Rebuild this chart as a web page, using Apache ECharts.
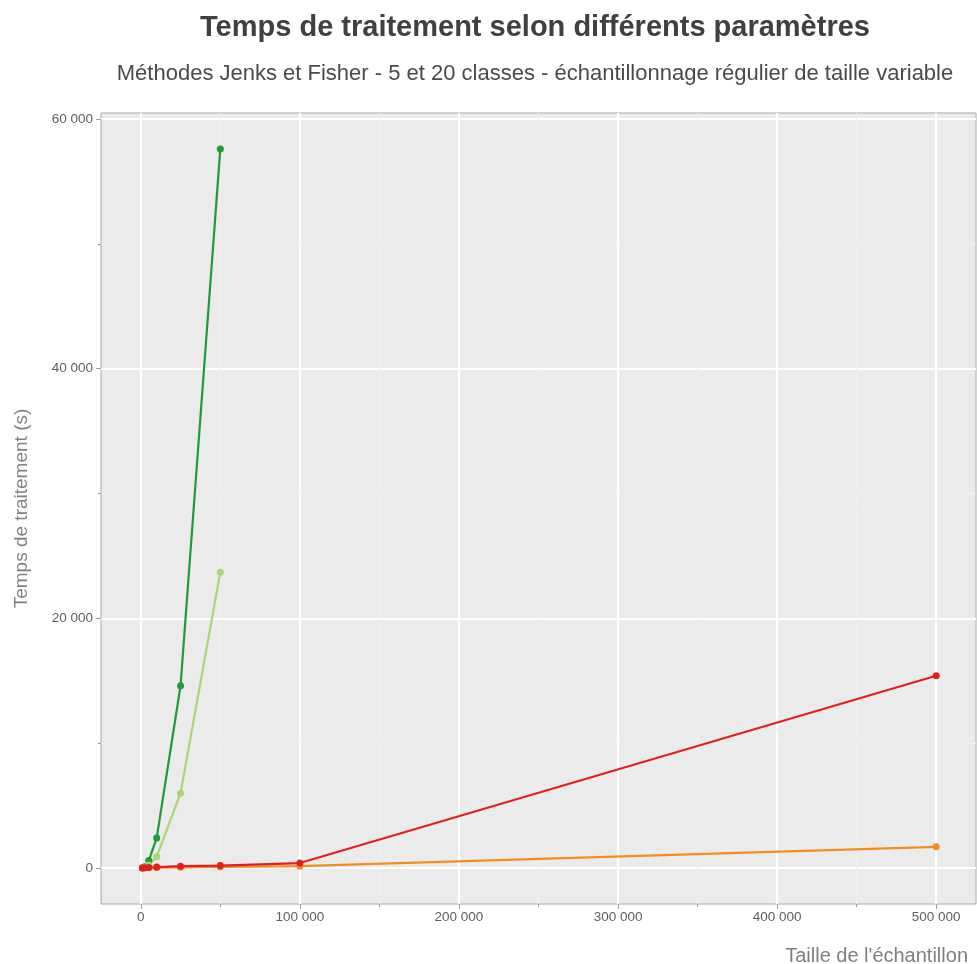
<!DOCTYPE html>
<html>
<head>
<meta charset="utf-8">
<script src="https://cdn.jsdelivr.net/npm/echarts@6/dist/echarts.min.js"></script>
<style>
  html, body { margin: 0; padding: 0; background: #ffffff; }
  #chart { width: 977px; height: 964px; }
</style>
</head>
<body>
<div id="chart"></div>
<script>
// Sample sizes (number of observations) and processing times in seconds
const sizesJenks = [1000, 2500, 5000, 10000, 25000, 50000];
const sizesFisher = [1000, 2500, 5000, 10000, 25000, 50000, 100000, 500000];

const jenks20 = [15, 100, 600, 2400, 14600, 57600];
const jenks5 = [5, 40, 250, 900, 6000, 23700];
const fisher5 = [5, 10, 20, 35, 60, 90, 150, 1700];
const fisher20 = [10, 20, 40, 80, 150, 200, 400, 15400];

// Axis tick positions
const xMajor = [0, 100000, 200000, 300000, 400000, 500000];
const xMinor = [50000, 150000, 250000, 350000, 450000];
const yMajor = [0, 20000, 40000, 60000];
const yMinor = [10000, 30000, 50000];

const pair = (xs, ys) => ys.map((v, i) => [xs[i], v]);
const fmt = v => String(v).replace(/\B(?=(\d{3})+(?!\d))/g, ' ');

const tickGrey = '#9a9a9a';
const labelGrey = '#606060';
const sans = 'Liberation Sans, Arial, sans-serif';

function xAxisDef(major) {
  return {
    type: 'value', gridIndex: 0, position: 'bottom',
    min: -25000, max: 525000,
    axisLine: { show: false, onZero: false },
    axisTick: {
      show: true, length: major ? 5 : 3,
      customValues: major ? xMajor : xMinor,
      lineStyle: { color: tickGrey, width: 1 }
    },
    axisLabel: major ? {
      show: true, customValues: xMajor, formatter: fmt, margin: 6,
      color: labelGrey, fontSize: 13.5, fontFamily: sans
    } : { show: false },
    splitLine: {
      show: true,
      lineStyle: { color: major ? '#ffffff' : '#efefef', width: major ? 2.2 : 1 }
    },
    name: major ? "Taille de l'échantillon" : '',
    nameLocation: 'end', nameGap: -8,
    nameTextStyle: {
      color: '#808080', fontSize: 20, fontFamily: sans,
      align: 'right', verticalAlign: 'top', padding: [42, 0, 0, 0]
    }
  };
}

function yAxisDef(major) {
  return {
    type: 'value', gridIndex: 0, position: 'left',
    min: -2880, max: 60480,
    axisLine: { show: false, onZero: false },
    axisTick: {
      show: true, length: major ? 5 : 3,
      customValues: major ? yMajor : yMinor,
      lineStyle: { color: tickGrey, width: 1 }
    },
    axisLabel: major ? {
      show: true, customValues: yMajor, formatter: fmt, margin: 8,
      color: labelGrey, fontSize: 13.5, fontFamily: sans
    } : { show: false },
    splitLine: {
      show: true,
      lineStyle: { color: major ? '#ffffff' : '#efefef', width: major ? 2.2 : 1 }
    },
    name: major ? 'Temps de traitement (s)' : '',
    nameLocation: 'middle', nameGap: 70, nameRotate: 90,
    nameTextStyle: { color: '#808080', fontSize: 19, fontFamily: sans }
  };
}

function lineSeries(name, data, color) {
  return {
    name: name, type: 'line', xAxisIndex: 0, yAxisIndex: 0,
    data: data, color: color,
    symbol: 'circle', symbolSize: 7, showSymbol: true,
    lineStyle: { color: color, width: 2.2 },
    itemStyle: { color: color },
    emphasis: { disabled: true },
    animation: false
  };
}

const chart = echarts.init(document.getElementById('chart'), null, { renderer: 'canvas' });
chart.setOption({
  backgroundColor: '#ffffff',
  animation: false,
  title: [
    {
      text: 'Temps de traitement selon différents paramètres',
      left: 530, top: 8, textAlign: 'center',
      textStyle: { fontFamily: sans, fontWeight: 'bold', fontSize: 29, color: '#404040' }
    },
    {
      text: 'Méthodes Jenks et Fisher - 5 et 20 classes - échantillonnage régulier de taille variable',
      left: 530, top: 58, textAlign: 'center',
      textStyle: { fontFamily: sans, fontWeight: 'normal', fontSize: 22, color: '#4a4a4a' }
    }
  ],
  grid: {
    left: 101, right: 1, top: 113, bottom: 60,
    outerBoundsMode: 'none',
    show: true, backgroundColor: '#ebebeb', borderColor: '#a8a8a8', borderWidth: 1,
    containLabel: false
  },
  xAxis: [xAxisDef(true), xAxisDef(false)],
  yAxis: [yAxisDef(true), yAxisDef(false)],
  series: [
    lineSeries('Jenks 20 classes', pair(sizesJenks, jenks20), '#1f9a3a'),
    lineSeries('Jenks 5 classes', pair(sizesJenks, jenks5), '#a9d672'),
    lineSeries('Fisher 5 classes', pair(sizesFisher, fisher5), '#f58c1c'),
    lineSeries('Fisher 20 classes', pair(sizesFisher, fisher20), '#e0201e')
  ]
});
</script>
</body>
</html>
